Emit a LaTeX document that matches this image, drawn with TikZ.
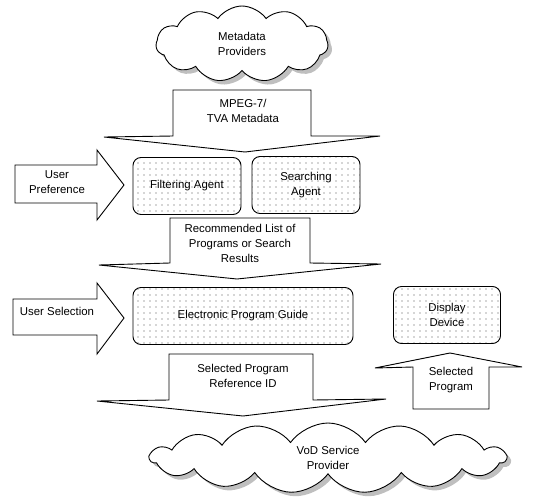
\documentclass[tikz,border=0pt]{standalone}
\usepackage{fontspec}
\setmainfont{Liberation Sans}
\usetikzlibrary{shapes.symbols, shadows, patterns.meta}

\begin{document}
\begin{tikzpicture}[x=1pt, y=-1pt, line width=0.9pt, font=\fontsize{11.4}{15}\selectfont,
    agent/.style={rectangle, draw=black, rounded corners=8pt, pattern={Dots[distance=6pt, radius=0.6pt]}, pattern color=black!70, align=center},
    provider/.style={cloud, draw=black, fill=white, cloud ignores aspect, cloud puff arc=110, align=center, drop shadow={shadow xshift=4pt, shadow yshift=-4pt, fill=black!50}},
    blockarrow/.style={draw=black, fill=white, line join=miter}]
\useasboundingbox (0,0) rectangle (550,499);

\node[provider, cloud puffs=11, minimum width=172pt, minimum height=76pt] (meta) at (242,44) {Metadata\\Providers};
\node[provider, cloud puffs=15, minimum width=356pt, minimum height=70pt] (vod) at (328,458) {VoD Service\\Provider};



\draw[blockarrow] (173,90) -- (311,90) -- (311,136) -- (380,136) -- (245,152) -- (104,137) -- (173,136) -- cycle;
\node[align=center] (mpeg) at (243,111) {MPEG-7/\\TVA Metadata};

\node[agent, minimum width=108pt, minimum height=57pt] (filter) at (187,186) {Filtering Agent};
\node[agent, minimum width=108pt, minimum height=57pt] (search) at (306,185) {Searching\\Agent};

\draw[blockarrow] (15,165) -- (97,165) -- (97,150) -- (124,185) -- (97,220) -- (97,203) -- (15,203) -- cycle;
\node[align=center] (pref) at (57,182) {User\\Preference};

\draw[blockarrow] (170,218) -- (310,218) -- (310,263) -- (381,264) -- (237,279) -- (99,265) -- (170,263) -- cycle;
\node[align=center] (recom) at (240,243) {Recommended List of\\Programs or Search\\Results};

\node[agent, minimum width=220pt, minimum height=57pt] (epg) at (243,316) {Electronic Program Guide};
\node[agent, minimum width=107pt, minimum height=57pt] (display) at (447,315) {Display\\Device};

\draw[blockarrow] (13,299) -- (97,299) -- (97,283) -- (124,318) -- (97,354) -- (97,335) -- (13,335) -- cycle;
\node (usel) at (57,311) {User Selection};

\draw[blockarrow] (169,354) -- (313,354) -- (313,400) -- (386,399) -- (243,416) -- (97,401) -- (169,400) -- cycle;
\node[align=center] (refid) at (243,376) {Selected Program\\Reference ID};

\draw[blockarrow] (413,409) -- (413,367) -- (375,368) -- (450,353) -- (522,367) -- (489,367) -- (489,409) -- cycle;
\node[align=center] (selprog) at (451,380) {Selected\\Program};

\end{tikzpicture}
\end{document}
